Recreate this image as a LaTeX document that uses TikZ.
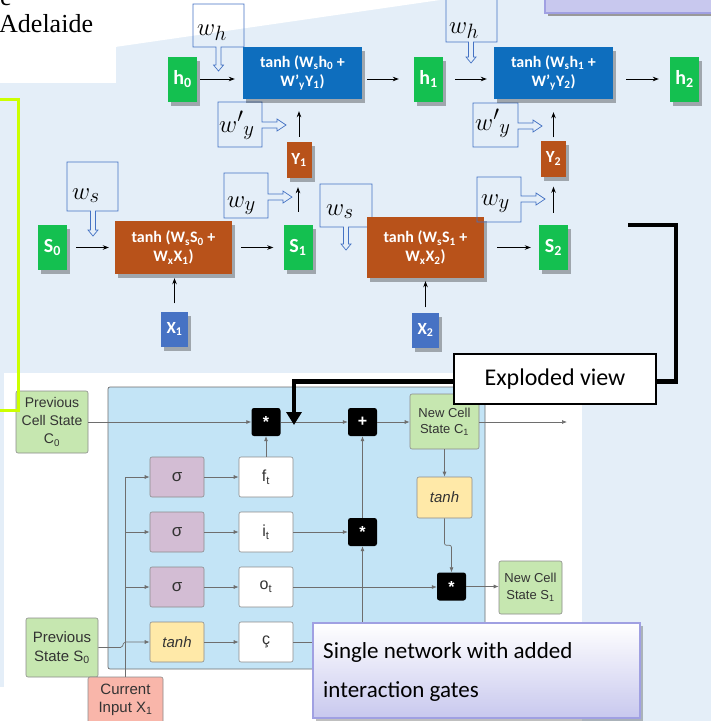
\documentclass[tikz,border=0pt]{standalone}
\usepackage{fontspec}
\setmainfont{Liberation Serif}
\newfontfamily\calfont{Carlito}
\newfontfamily\arfont{Liberation Sans}
\usetikzlibrary{shadows,arrows.meta,calc}

\definecolor{bgblue}{RGB}{228,238,248}
\definecolor{gnode}{RGB}{20,192,80}
\definecolor{bnode}{RGB}{14,110,190}
\definecolor{onode}{RGB}{184,82,26}
\definecolor{xnode}{RGB}{70,114,196}
\definecolor{wline}{RGB}{68,114,196}
\definecolor{limec}{RGB}{204,255,0}
\definecolor{lstmbg}{RGB}{195,228,246}
\definecolor{lgreen}{RGB}{198,231,176}
\definecolor{lpurple}{RGB}{211,189,212}
\definecolor{lyellow}{RGB}{255,233,168}
\definecolor{lpink}{RGB}{249,182,170}
\definecolor{gline}{RGB}{110,110,110}
\definecolor{txtgrey}{RGB}{51,51,51}
\definecolor{lav}{RGB}{200,200,238}
\definecolor{lavborder}{RGB}{160,160,226}

\newcommand{\dcallout}[6]{%
\draw[wline, line width=0.7pt] (#1,#2) -- (#3,#2) -- (#3,#4) -- ({#5+2.5},#4) -- ({#5+2.5},{#6-6}) -- ({#5+5},{#6-6}) -- (#5,#6) -- ({#5-5},{#6-6}) -- ({#5-2.5},{#6-6}) -- ({#5-2.5},#4) -- (#1,#4) -- cycle;}
\newcommand{\rcallout}[6]{%
\draw[wline, line width=0.7pt] (#1,#2) -- (#3,#2) -- (#3,{#5-3}) -- ({#6-9},{#5-3}) -- ({#6-9},{#5-6}) -- (#6,#5) -- ({#6-9},{#5+6}) -- ({#6-9},{#5+3}) -- (#3,{#5+3}) -- (#3,#4) -- (#1,#4) -- cycle;}

\tikzset{
  upper/.style={inner sep=0pt, text=white, drop shadow={shadow xshift=3pt,shadow yshift=-4pt,opacity=0.3,fill=black}},
  gbox/.style={upper, fill=gnode, minimum width=29pt, minimum height=45pt, font=\calfont\bfseries\fontsize{20}{22}\selectfont},
  tbox/.style={upper, minimum width=119pt, minimum height=52pt, align=center, font=\calfont\bfseries\fontsize{16}{19}\selectfont},
  ybox/.style={upper, fill=onode, minimum width=25pt, minimum height=36pt, font=\calfont\bfseries\fontsize{17}{19}\selectfont},
  xbox/.style={upper, fill=xnode, minimum width=27pt, minimum height=35pt, font=\calfont\bfseries\fontsize{17}{19}\selectfont},
  wlab/.style={inner sep=0pt, anchor=base west, font=\fontsize{29}{31}\selectfont},
  arr/.style={-{Stealth[length=6pt,width=4.5pt]}, line width=0.8pt, black},
  lbox/.style={draw=gline!80, line width=0.6pt, rounded corners=2pt, inner sep=0pt, text=txtgrey, align=center, font=\arfont\fontsize{14}{18}\selectfont},
  blk/.style={fill=black, rounded corners=2.5pt, minimum width=29pt, minimum height=28pt, inner sep=0pt, text=white, font=\arfont\bfseries\fontsize{16}{16}\selectfont},
  conn/.style={-{Latex[length=5pt,width=4pt]}, draw=gline, line width=0.7pt},
}

\begin{document}
\begin{tikzpicture}[x=1pt,y=-1pt]
\useasboundingbox (0,0) rectangle (711,721);
% backgrounds
\fill[bgblue] (0,0) rectangle (711,721);
\fill[white] (-1,-1) rectangle (116,83);
\fill[white] (115,-1) -- (115,47) -- (440,0) -- (440,-1) -- cycle;
\fill[white] (4,373) rectangle (582,722);
\fill[white] (-1,687) rectangle (5,722);
% top-right lavender box
\fill[black!40] (548,-5) rectangle (713,16);
\draw[fill=lav, draw=lavborder, line width=1.5pt] (545,-5) rectangle (712,13);
% top-left text
\node[anchor=base west, inner sep=0pt, font=\fontsize{26}{28}\selectfont] (t1) at (0,5) {e};
\node[anchor=base west, inner sep=0pt, font=\fontsize{26}{28}\selectfont] (t2) at (-1,32) {Adelaide};

% weight callouts (behind)
\dcallout{193}{4}{244}{47}{218.5}{71}
\dcallout{446}{-3}{497}{42}{471}{63}
\rcallout{218}{102}{262}{147}{125}{286}
\rcallout{473}{103}{518}{147}{126}{542}
\dcallout{67}{162}{118}{211}{93}{236}
\rcallout{224}{173}{268}{218}{197}{292}
\dcallout{320}{184}{372}{227}{346}{250}
\node[wlab] (lwh1) at (197,35) {$w_h$};
\node[wlab] (lwh2) at (449,33) {$w_h$};
\node[wlab] (lwy1) at (219,132) {${w'}_{y}$};
\node[wlab] (lwy2) at (475,130) {${w'}_{y}$};
\node[wlab] (lws1) at (72,199) {$w_s$};
\node[wlab] (lwx1) at (227,207) {$w_y$};
\node[wlab] (lws2) at (326,215) {$w_s$};

% upper nodes
\node[gbox] (h0) at (182.5,79) {h\textsubscript{0}};
\node[gbox] (h1) at (428.5,79) {h\textsubscript{1}};
\node[gbox] (h2) at (684.5,79) {h\textsubscript{2}};
\node[gbox] (s0) at (52.5,247.5) {S\textsubscript{0}};
\node[gbox] (s1) at (298,247.5) {S\textsubscript{1}};
\node[gbox] (s2) at (553.5,247.5) {S\textsubscript{2}};
\node[tbox, fill=bnode] (b1) at (302.5,73) {tanh (W\textsubscript{s}h\textsubscript{0} +\\W’\textsubscript{y}Y\textsubscript{1})};
\node[tbox, fill=bnode] (b2) at (553.5,73) {tanh (W\textsubscript{s}h\textsubscript{1} +\\W’\textsubscript{y}Y\textsubscript{2})};
\node[tbox, fill=onode, minimum width=117pt, minimum height=53pt] (o1) at (173.5,247.5) {tanh (W\textsubscript{s}S\textsubscript{0} +\\W\textsubscript{x}X\textsubscript{1})};
\node[tbox, fill=onode, minimum width=117pt, minimum height=61pt] (o2) at (425.5,247.5) {tanh (W\textsubscript{s}S\textsubscript{1} +\\W\textsubscript{x}X\textsubscript{2})};
\node[ybox] (y1) at (299,160) {Y\textsubscript{1}};
\node[ybox] (y2) at (553.5,158.5) {Y\textsubscript{2}};
\node[xbox] (x1) at (174.5,329) {X\textsubscript{1}};
\node[xbox] (x2) at (425.5,330) {X\textsubscript{2}};
\rcallout{477}{177}{521}{222}{199}{545}
\node[wlab] (lwx2) at (481,205) {$w_y$};

% upper arrows
\draw[arr, shorten <=3pt, shorten >=8pt] (h0.east) -- (h0.east -| b1.west);
\draw[arr, shorten <=5pt, shorten >=15pt] (b1.east |- h1.west) -- (h1.west);
\draw[arr, shorten <=12pt, shorten >=7pt] (h1.east) -- (h1.east -| b2.west);
\draw[arr, shorten <=13pt, shorten >=11pt] (b2.east |- h2.west) -- (h2.west);
\draw[arr, shorten <=9pt, shorten >=6pt] (s0.east) -- (s0.east -| o1.west);
\draw[arr, shorten <=9pt, shorten >=10pt] (o1.east |- s1.west) -- (s1.west);
\draw[arr, shorten <=13pt, shorten >=8pt] (o2.east |- s2.west) -- (s2.west);
\draw[arr, shorten <=8pt, shorten >=4pt] (x1.north) -- (x1.north |- o1.south);
\draw[arr, shorten <=5pt, shorten >=3pt] (x2.north) -- (x2.north |- o2.south);
\draw[arr, shorten <=5pt, shorten >=12pt] (y1.north) -- (y1.north |- b1.south);
\draw[arr, shorten <=3pt, shorten >=13pt] (y2.north) -- (y2.north |- b2.south);
\draw[arr, shorten <=13pt, shorten >=9pt] (s1.north) -- (s1.north |- y1.south);
\draw[arr, shorten <=12pt, shorten >=10pt] (s2.north) -- (s2.north |- y2.south);

% LSTM block
\node[draw=gline, line width=0.7pt, fill=lstmbg, rounded corners=2pt, minimum width=377pt, minimum height=282pt, inner sep=0pt] (lstm) at (296.5,528) {};
\node[lbox, fill=lgreen, minimum width=72pt, minimum height=62pt] (c0) at (52,422) {Previous\\Cell State\\C\textsubscript{0}};
\node[lbox, fill=lgreen, minimum width=72pt, minimum height=59pt, font=\arfont\fontsize{15}{19}\selectfont] (s0p) at (62,647.5) {Previous\\State S\textsubscript{0}};
\node[lbox, fill=lpink, minimum width=75pt, minimum height=46pt, font=\arfont\fontsize{15}{18}\selectfont] (inp) at (125.5,700) {Current\\Input X\textsubscript{1}};
\node[lbox, fill=lgreen, minimum width=69pt, minimum height=55pt, font=\arfont\fontsize{13}{16}\selectfont] (c1) at (444.5,421.5) {New Cell\\State C\textsubscript{1}};
\node[lbox, fill=lgreen, minimum width=63pt, minimum height=53pt, font=\arfont\fontsize{13}{17}\selectfont] (s1n) at (530.5,587.5) {New Cell\\State S\textsubscript{1}};
\node[lbox, fill=lyellow, minimum width=55pt, minimum height=41pt, font=\arfont\itshape\fontsize{15}{18}\selectfont] (tc) at (444.5,497.5) {tanh};
\node[blk] (m1) at (266,422) {*};
\node[blk] (pl) at (362.5,422) {+};
\node[blk] (m2) at (362.5,532) {*};
\node[blk] (m3) at (451.5,586.5) {*};
\node[lbox, fill=lpurple, minimum width=54pt, minimum height=40pt, font=\arfont\fontsize{17}{18}\selectfont] (g1) at (177,477) {σ};
\node[lbox, fill=lpurple, minimum width=54pt, minimum height=40pt, font=\arfont\fontsize{17}{18}\selectfont] (g2) at (177,532) {σ};
\node[lbox, fill=lpurple, minimum width=54pt, minimum height=40pt, font=\arfont\fontsize{17}{18}\selectfont] (g3) at (177,587) {σ};
\node[lbox, fill=lyellow, minimum width=54pt, minimum height=40pt, font=\arfont\itshape\fontsize{15}{18}\selectfont] (g4) at (177,642) {tanh};
\node[lbox, fill=white, minimum width=54pt, minimum height=40pt, font=\arfont\fontsize{16}{18}\selectfont] (ft) at (266,477) {f\textsubscript{t}};
\node[lbox, fill=white, minimum width=54pt, minimum height=40pt, font=\arfont\fontsize{16}{18}\selectfont] (it) at (266,532) {i\textsubscript{t}};
\node[lbox, fill=white, minimum width=54pt, minimum height=40pt, font=\arfont\fontsize{16}{18}\selectfont] (ot) at (266,587) {o\textsubscript{t}};
\node[lbox, fill=white, minimum width=54pt, minimum height=40pt, font=\arfont\fontsize{16}{18}\selectfont] (cc) at (266,642) {ç};
\coordinate (cout) at (567,422);
% LSTM connectors
\draw[conn] (c0.east) -- (m1.west);
\draw[conn] (m1.east) -- (pl.west);
\draw[conn] (pl.east) -- (pl.east -| c1.west);
\draw[conn] (c1.east |- cout) -- (cout);
\draw[conn] (c1.south) -- (tc.north);
\draw[conn, rounded corners=2pt] (tc.south) -- ++(0,27) -| (m3.north);
\draw[conn] (m3.east) -- (m3.east -| s1n.west);
\draw[conn] (ft.north) -- (m1.south);
\draw[conn] (it.east) -- (m2.west);
\draw[conn] (ot.east) -- (ot.east -| m3.west);
\draw[conn] (m2.north) -- (pl.south);
\draw[conn] (cc.east) -| (m2.south);
\draw[conn] (g1.east) -- (ft.west);
\draw[conn] (g2.east) -- (it.west);
\draw[conn] (g3.east) -- (ot.west);
\draw[conn] (g4.east) -- (cc.west);
\draw[conn] (inp.north) |- (g1.west);
\draw[conn] (inp.north |- g2.west) -- (g2.west);
\draw[conn] (inp.north |- g3.west) -- (g3.west);
\draw[conn, rounded corners=1.5pt] (s0p.east) -- (122,647.5) -- (124,642) -- (g4.west);

% thick exploded-view connector
\coordinate (ex0) at (628,225);
\coordinate (ex1) at (294,425);
\draw[line width=4.5pt, -{Triangle[length=13pt,width=15pt]}] (ex0) -- (676,225) -- (676,381.5) -| (ex1);
\node[draw=black, line width=1.8pt, fill=white, minimum width=202pt, minimum height=50pt, inner sep=0pt, font=\calfont\fontsize{24}{26}\selectfont] (ev) at (555,379) {Exploded view};

% lime line
\draw[limec, line width=3pt] (-1,99) -- (18,99) -- (18,410) -- (-1,410);

% single network box
\node[draw=lavborder, line width=2pt, top color=white, bottom color=lav, minimum width=327pt, minimum height=95pt, inner sep=0pt, drop shadow={shadow xshift=3pt,shadow yshift=-3pt,opacity=0.25,fill=black}] (sn) at (476.5,670.5) {};
\node[anchor=west, align=left, inner sep=0pt, font=\calfont\fontsize{23}{39}\selectfont] (snt) at (323,671.5) {Single network with added\\interaction gates};
\end{tikzpicture}
\end{document}
